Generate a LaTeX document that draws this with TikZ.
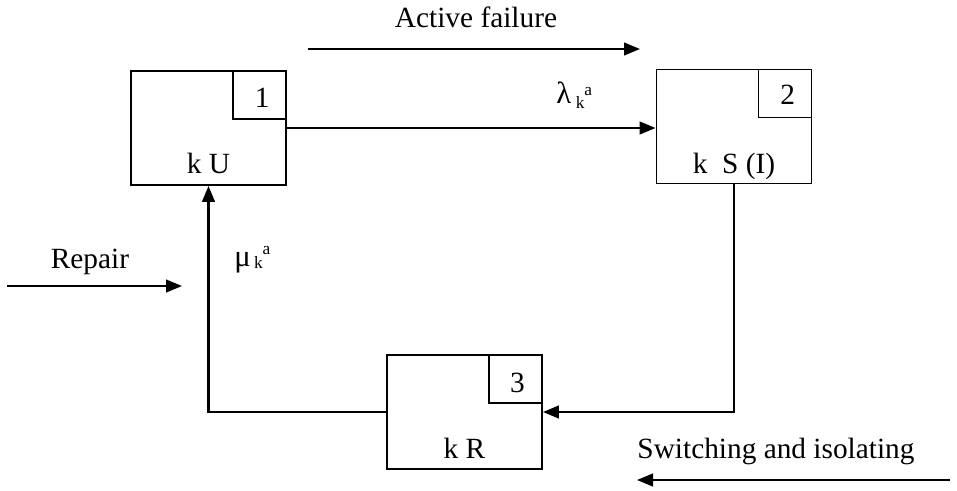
\documentclass[tikz,border=0pt]{standalone}
\usepackage{fontspec}
\setmainfont{Liberation Serif}
\usetikzlibrary{arrows.meta}
\begin{document}
\begin{tikzpicture}[x=0.75pt,y=-0.75pt,
  statebox/.style={draw,line width=1.4pt,rectangle,inner sep=0pt,minimum width=116.25pt,minimum height=85.5pt},
  tagbox/.style={draw,line width=1.4pt,rectangle,inner sep=0pt,minimum width=39.75pt,minimum height=36pt,anchor=north east},
  txt/.style={inner sep=0pt,font=\fontsize{22}{26}\selectfont},
  arr/.style={line width=1.7pt,-{Triangle[length=12pt,width=9.5pt]}}]
\useasboundingbox[fill=white] (0,0) rectangle (957,490);
% state boxes
\node[statebox] (b1) at (208.5,128) {};
\node[statebox] (b2) at (734,126.5) {};
\node[statebox] (b3) at (464.5,412) {};
% number tags
\node[tagbox] (t1) at (b1.north east) {};
\node[tagbox] (t2) at (b2.north east) {};
\node[tagbox] (t3) at (b3.north east) {};
\node[txt] (n1) at ([xshift=2pt,yshift=-2pt]t1.center) {1};
\node[txt] (n2) at ([xshift=2pt,yshift=-1pt]t2.center) {2};
\node[txt] (n3) at ([xshift=1.5pt,yshift=-3pt]t3.center) {3};
% state labels
\node[txt,anchor=base] (l1) at ([yshift=9pt]b1.south) {k U};
\node[txt,anchor=base] (l2) at ([yshift=8.5pt]b2.south) {k\ \ S (I)};
\node[txt,anchor=base] (l3) at ([yshift=8.5pt]b3.south) {k R};
% transitions
\draw[arr] (b1.east) -- (b1.east -| b2.west);
\draw[arr] (b2.south) |- (b3.east);
\draw[arr] (b3.west) -| (b1.south);
% rate labels
\node[txt,anchor=base west] (lam) at (556,103) {\fontsize{23}{24}\selectfont λ\hspace{3.5pt}\raisebox{-3.75pt}{\fontsize{13}{13}\selectfont k}\raisebox{6pt}{\fontsize{13}{13}\selectfont a}};
\node[txt,anchor=base west] (mu) at (234,266) {\fontsize{23}{24}\selectfont μ\hspace{2.5pt}\raisebox{-1.5pt}{\fontsize{13}{13}\selectfont k}\raisebox{9pt}{\fontsize{13}{13}\selectfont a}};
% direction captions
\node[txt,anchor=base] (af) at (476,27) {Active failure};
\coordinate (af1) at (308,49);
\coordinate (af2) at (640,49);
\draw[arr] (af1) -- (af2);
\node[txt,anchor=base] (rp) at (90,268) {Repair};
\coordinate (rp1) at (7,286);
\coordinate (rp2) at (182,286);
\draw[arr] (rp1) -- (rp2);
\node[txt,anchor=base] (sw) at (776,458) {Switching and isolating};
\coordinate (sw1) at (950,480);
\coordinate (sw2) at (637,480);
\draw[arr] (sw1) -- (sw2);
\end{tikzpicture}
\end{document}
